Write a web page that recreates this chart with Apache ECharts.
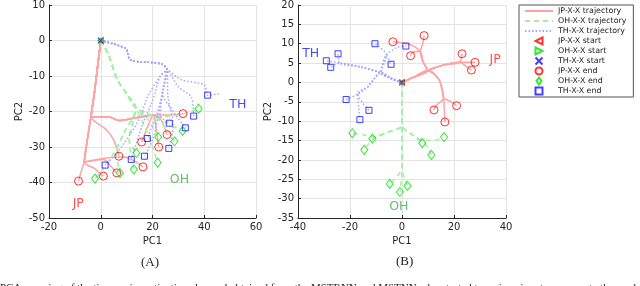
<!DOCTYPE html>
<html><head><meta charset="utf-8">
<script src="https://cdn.jsdelivr.net/npm/echarts@6/dist/echarts.min.js"></script>
<style>html,body{margin:0;padding:0;background:#fff}#c{width:640px;height:286px}</style>
</head><body><div id="c"></div>
<script>
// ---------- Panel A data ----------
const aJPTrunk = [[0,0],[-1,-6],[-2.5,-15],[-3.8,-21.5]];
const aJPPaths = [
  [...aJPTrunk,[-5,-27],[-6.4,-34.2],[-7.6,-37],[-8.6,-39.6]],
  [...aJPTrunk,[-5,-27],[-6.4,-34.2],[-2.5,-36],[1,-38.2]],
  [...aJPTrunk,[-5,-27],[-6.4,-34.2],[1,-33.5],[4,-35.5],[6.2,-37.3]],
  [...aJPTrunk,[-5,-27],[-6.4,-34.2],[3,-33],[9,-32.8],[13,-34],[16.3,-35.6]],
  [...aJPTrunk,[-1,-23.5],[2,-25],[5,-28],[7,-32.6]],
  [...aJPTrunk,[3,-21.5],[7,-22.5],[12,-22],[20,-21],[23,-22],[25.6,-26.5]],
  [...aJPTrunk,[3,-21.5],[7,-22.5],[12,-22],[20,-21],[27,-21],[31.8,-20.6]],
  [...aJPTrunk,[3,-21.5],[7,-22.5],[12,-22],[20,-21],[18,-24.5],[15.8,-28.6]],
  [...aJPTrunk,[3,-21.5],[7,-22.5],[12,-22],[20,-21],[21.5,-25.5],[22.4,-30]]
];
const aOHTrunk = [[0,0],[3,-4],[6.4,-11],[10,-15],[13.5,-19]];
const aOHPaths = [
  [...aOHTrunk,[9,-26],[4,-33],[0,-37],[-2.2,-38.9]],
  [...aOHTrunk,[9,-26],[6,-32],[7.4,-37.3]],
  [...aOHTrunk,[11,-28],[12.8,-36.3]],
  [...aOHTrunk,[11,-28],[13.8,-31.7]],
  [...aOHTrunk,[18,-26],[22,-34.4]],
  [...aOHTrunk,[18,-22],[22.2,-27.2]],
  [...aOHTrunk,[22,-22],[28.5,-28.4]],
  [...aOHTrunk,[22,-22],[31.6,-25.5]],
  [...aOHTrunk,[22,-21.5],[30,-21],[37.8,-19.2]]
];
const aTHTrunk = [[0,0],[9.6,-2.3],[11.5,-5.5],[23,-6.5],[25.6,-8]];
const aTHPaths = [
  [...aTHTrunk,[31,-11],[40,-12.5],[41.3,-15.4],[46,-15]],
  [...aTHTrunk,[30,-13],[35,-16],[35.9,-21.3]],
  [...aTHTrunk,[24,-15],[28,-20],[32.7,-24.6]],
  [...aTHTrunk,[23,-10],[18,-16],[15,-22],[7,-31],[1.7,-35.1]],
  [...aTHTrunk,[23,-10],[20,-17],[16,-24],[11.8,-33.5]],
  [...aTHTrunk,[24,-14],[22,-20],[18,-27.6]],
  [...aTHTrunk,[24,-14],[23,-21],[26.5,-23.3]],
  [...aTHTrunk,[24,-14],[22,-22],[20,-28],[16.9,-32.6]],
  [...aTHTrunk,[26,-16],[28,-24],[26.3,-30.4]]
];
const aJPEnd = [[-8.6,-39.6],[1,-38.2],[6.2,-37.3],[7,-32.6],[16.3,-35.6],[15.8,-28.6],[22.4,-30],[25.6,-26.5],[31.8,-20.6]];
const aOHEnd = [[-2.2,-38.9],[7.4,-37.3],[12.8,-36.3],[13.8,-31.7],[22,-34.4],[22.2,-27.2],[28.5,-28.4],[31.6,-25.5],[37.8,-19.2]];
const aTHEnd = [[1.7,-35.1],[11.8,-33.5],[16.9,-32.6],[18,-27.6],[26.3,-30.4],[26.5,-23.3],[32.7,-24.6],[35.9,-21.3],[41.3,-15.4]];
const aLabels = [{name:'JP',value:[-8.7,-46]},{name:'OH',value:[30.4,-39.3]},{name:'TH',value:[53,-18]}];

// ---------- Panel B data ----------
const bJPPaths = [
  [[0,0],[5,1.5],[9.8,3.1],[8,5.5],[7,8],[3,9.8],[-3.5,10.5]],
  [[0,0],[5,1.5],[9.8,3.1],[8,5.5],[7,8],[4,7.8],[3.3,6.9]],
  [[0,0],[5,1.5],[9.8,3.1],[8,5.5],[7,8],[8,10],[8.5,12.1]],
  [[0,0],[5,1.5],[9.8,3.1],[16,4.5],[22,5.2],[23.1,7.4]],
  [[0,0],[5,1.5],[9.8,3.1],[16,4.5],[22,5.2],[28.1,5.2]],
  [[0,0],[5,1.5],[9.8,3.1],[16,4.5],[22,5.2],[25,4],[26.7,3.2]],
  [[0,0],[5,1.5],[9.8,3.1],[14,1],[15.5,-2],[16,-4],[13,-6],[12.3,-7.1]],
  [[0,0],[5,1.5],[9.8,3.1],[14,1],[15.5,-2],[16,-4],[16.5,-10.2]],
  [[0,0],[5,1.5],[9.8,3.1],[14,1],[15.5,-2],[16,-4],[19,-5],[21,-6]]
];
const bOHPaths = [
  [[0,0],[0,-5],[0,-11],[-6,-13],[-10,-14],[-11.4,-14.5]],
  [[0,0],[0,-5],[0,-11],[-6,-13],[-10,-14],[-15,-13.5],[-19.1,-13.1]],
  [[0,0],[0,-5],[0,-11],[-6,-13],[-10,-14],[-13,-16],[-14.5,-17.4]],
  [[0,0],[0,-5],[0,-11],[5,-14],[7.8,-15.7]],
  [[0,0],[0,-5],[0,-11],[5,-14],[8,-15],[12,-15],[16.2,-14.1]],
  [[0,0],[0,-5],[0,-11],[5,-14],[8,-15],[10,-17],[11.3,-18.7]],
  [[0,0],[0,-5],[0,-11],[0,-18],[0,-22],[-4.7,-26.2]],
  [[0,0],[0,-5],[0,-11],[0,-18],[0,-22],[-0.8,-28.3]],
  [[0,0],[0,-5],[0,-11],[0,-18],[0,-22],[2.1,-26.7]]
];
const bTHPaths = [
  [[0,0],[-4,1],[-8,2.5],[-16,4],[-24,5],[-24.6,7.4]],
  [[0,0],[-4,1],[-8,2.5],[-16,4],[-24,5],[-29.1,5.6]],
  [[0,0],[-4,1],[-8,2.5],[-16,4],[-24,5],[-27.4,3.9]],
  [[0,0],[-4,1],[-8,2.5],[-6,7],[-10.4,10]],
  [[0,0],[-4,1],[-8,2.5],[-6,7],[-2,9],[1.5,9.4]],
  [[0,0],[-4,1],[-8,2.5],[-6,7],[-4.2,4.7]],
  [[0,0],[-4,1],[-8,2.5],[-13,-1],[-17,-3],[-21.5,-4.4]],
  [[0,0],[-4,1],[-8,2.5],[-13,-1],[-17,-3],[-12.7,-7.2]],
  [[0,0],[-4,1],[-8,2.5],[-13,-1],[-17,-3],[-16.2,-9.6]]
];
const bJPEnd = [[-3.5,10.5],[8.5,12.1],[3.3,6.9],[23.1,7.4],[28.1,5.2],[26.7,3.2],[12.3,-7.1],[21,-6],[16.5,-10.2]];
const bOHEnd = [[-19.1,-13.1],[-11.4,-14.5],[-14.5,-17.4],[7.8,-15.7],[16.2,-14.1],[11.3,-18.7],[-4.7,-26.2],[-0.8,-28.3],[2.1,-26.7]];
const bTHEnd = [[-24.6,7.4],[-29.1,5.6],[-27.4,3.9],[-10.4,10],[1.5,9.4],[-4.2,4.7],[-21.5,-4.4],[-12.7,-7.2],[-16.2,-9.6]];
const bLabels = [{name:'TH',value:[-35.1,7.3]},{name:'JP',value:[35.8,5.8]},{name:'OH',value:[-1.2,-32.2]}];

const startPoint = [[0,0]];
const legendNames = ['JP-X-X trajectory','OH-X-X trajectory','TH-X-X trajectory','JP-X-X start','OH-X-X start','TH-X-X start','JP-X-X end','OH-X-X end','TH-X-X end'];
const axisA = {xmin:-20,xmax:60,xint:20,ymin:-50,ymax:10,yint:10};
const axisB = {xmin:-40,xmax:40,xint:20,ymin:-35,ymax:20,yint:5};

// ---------- styles ----------
const RED='#ff0000', GREEN='#00e000', BLUE='#1010ff';
const styleJP = {color:'#ffa3a3', width:1.5, type:'solid'};
const styleOH = {color:'#a6f0a6', width:1.5, type:[5,4]};
const styleTH = {color:'#a3a8ff', width:1.5, type:[1.5,2]};
const FONT='DejaVu Sans';

function traj(paths, name, ls, gi){
  return paths.map(p=>({type:'line',name,xAxisIndex:gi,yAxisIndex:gi,data:p,symbol:'none',showSymbol:false,
    smooth:0.3,lineStyle:ls,silent:true,z:2,animation:false}));
}
function marks(pts, name, symbol, size, color, gi, z){
  return {type:'scatter',name,xAxisIndex:gi,yAxisIndex:gi,data:pts,symbol,symbolSize:size,silent:true,z:z||3,animation:false,
    itemStyle:{color:'rgba(0,0,0,0)',borderColor:color,borderWidth:1}};
}
function labels(items, gi){
  const col={JP:'#ff2020',OH:'#3cb043',TH:'#1a1aff'};
  return {type:'scatter',xAxisIndex:gi,yAxisIndex:gi,symbolSize:0,silent:true,animation:false,z:5,
    data:items.map(d=>({name:d.name,value:d.value,label:{show:true,position:'inside',formatter:'{b}',color:col[d.name],fontSize:12.5,fontFamily:FONT}}))};
}
const symL='path://M10,0L0,5L10,10Z', symR='path://M0,0L10,5L0,10Z', symX='path://M0,0L10,10M10,0L0,10';
const iconDiamond='path://M5,0L10,7L5,14L0,7Z', iconRect='path://M0,0L10,0L10,10L0,10Z';

function xAx(a,gi){return {type:'value',gridIndex:gi,min:a.xmin,max:a.xmax,interval:a.xint,name:'PC1',nameLocation:'middle',nameGap:16,
  nameTextStyle:{fontFamily:FONT,fontSize:10,color:'#262626'},
  axisLine:{show:true,onZero:false,lineStyle:{color:'#262626',width:1}},axisTick:{show:true,inside:true,length:3,lineStyle:{color:'#262626'}},
  axisLabel:{fontFamily:FONT,fontSize:10,color:'#262626',margin:4},splitLine:{show:true,lineStyle:{color:'#e3e3e3',width:1}}};}
function yAx(a,gi,gap){return {type:'value',gridIndex:gi,min:a.ymin,max:a.ymax,interval:a.yint,name:'PC2',nameLocation:'middle',nameGap:gap,
  nameTextStyle:{fontFamily:FONT,fontSize:10,color:'#262626'},
  axisLine:{show:true,onZero:false,lineStyle:{color:'#262626',width:1}},axisTick:{show:true,inside:true,length:3,lineStyle:{color:'#262626'}},
  axisLabel:{fontFamily:FONT,fontSize:10,color:'#262626',margin:4},splitLine:{show:true,lineStyle:{color:'#e3e3e3',width:1}}};}

const series = [].concat(
  traj(aJPPaths,legendNames[0],styleJP,0), traj(aOHPaths,legendNames[1],styleOH,0), traj(aTHPaths,legendNames[2],styleTH,0),
  traj(bJPPaths,legendNames[0],styleJP,1), traj(bOHPaths,legendNames[1],styleOH,1), traj(bTHPaths,legendNames[2],styleTH,1),
  [marks(startPoint,legendNames[3],symL,[5,6],RED,0,4), marks(startPoint,legendNames[4],symR,[5,6],GREEN,0,4), marks(startPoint,legendNames[5],symX,5,BLUE,0,4),
   marks(aJPEnd,legendNames[6],'circle',8,RED,0), marks(aOHEnd,legendNames[7],'diamond',[7,9],GREEN,0), marks(aTHEnd,legendNames[8],'rect',6,BLUE,0),
   marks(startPoint,legendNames[3],symL,[5,6],RED,1,4), marks(startPoint,legendNames[4],symR,[5,6],GREEN,1,4), marks(startPoint,legendNames[5],symX,5,BLUE,1,4),
   marks(bJPEnd,legendNames[6],'circle',8,RED,1), marks(bOHEnd,legendNames[7],'diamond',[7,9],GREEN,1), marks(bTHEnd,legendNames[8],'rect',6,BLUE,1),
   labels(aLabels,0), labels(bLabels,1)]
);

const legendData = legendNames.map((n,i)=>{
  if (i<3) return {name:n, itemStyle:{opacity:0}};
  if (i===7) return {name:n, icon:iconDiamond};
  if (i===8) return {name:n, icon:iconRect};
  return {name:n};
});

const chart = echarts.init(document.getElementById('c'), null, {renderer:'canvas'});
chart.setOption({
  animation:false,
  backgroundColor:'#fff',
  grid:[{left:49,top:5,width:207,height:213},{left:298,top:5,width:208,height:213}],
  xAxis:[xAx(axisA,0),xAx(axisB,1)],
  yAxis:[yAx(axisA,0,22),yAx(axisB,1,20)],
  legend:{data:legendData,orient:'vertical',left:519,top:5,padding:[1,7,1,5],itemWidth:28,itemHeight:7,itemGap:0,
    selectedMode:false,borderColor:'#555',borderWidth:1,backgroundColor:'#fff',
    textStyle:{fontFamily:FONT,fontSize:7.9,color:'#222',lineHeight:10}},
  graphic:[
    {type:'text',left:141,top:256,style:{text:'(A)',font:'13px "Liberation Serif"',fill:'#222'}},
    {type:'text',left:396,top:255,style:{text:'(B)',font:'13px "Liberation Serif"',fill:'#222'}},
    {type:'text',left:0,top:283,style:{text:'PCA mapping of the time-series activations learned obtained from the MSTRNN and MSTNN when tested to a given input sequence to the model.',font:'11px "Liberation Serif"',fill:'#222'}}
  ],
  series
});
</script></body></html>
